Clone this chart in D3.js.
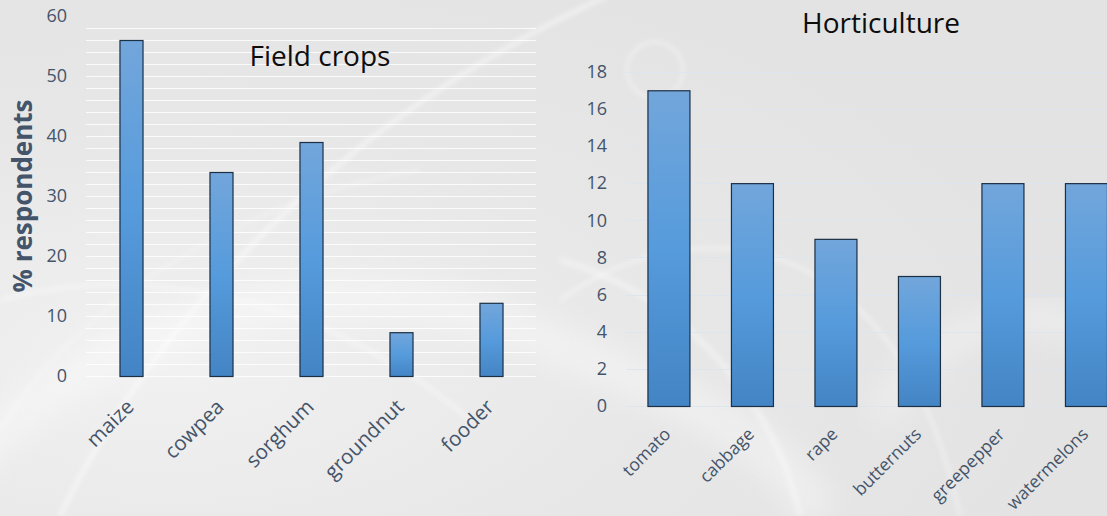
<!DOCTYPE html>
<html>
<head>
<meta charset="utf-8">
<script src="https://cdn.jsdelivr.net/npm/d3@7"></script>
<style>
  html, body { margin: 0; padding: 0; background: #e6e6e6; }
  svg { display: block; }
  text { font-family: "Open Sans", "Noto Sans", sans-serif; }
</style>
</head>
<body>
<svg id="chart" width="1107" height="516"></svg>
<script>
// Field crops grown (% respondents)
const fieldCrops = ["maize", "cowpea", "sorghum", "groundnut", "fooder"];
const fieldValues = [56, 34, 39, 7.3, 12.2];
const fieldTicks = [0, 10, 20, 30, 40, 50, 60];

// Horticultural crops grown (% respondents)
const hortiCrops = ["tomato", "cabbage", "rape", "butternuts", "greepepper", "watermelons"];
const hortiValues = [17, 12, 9, 7, 12, 12];
const hortiTicks = [0, 2, 4, 6, 8, 10, 12, 14, 16, 18];

const svg = d3.select("#chart");
const W = 1107, H = 516;
const defs = svg.append("defs");

// backdrop gradient
const bg = defs.append("radialGradient").attr("id", "bg")
  .attr("cx", "15%").attr("cy", "70%").attr("r", "85%");
bg.append("stop").attr("offset", "0%").attr("stop-color", "#f1f1f1");
bg.append("stop").attr("offset", "55%").attr("stop-color", "#e7e7e7");
bg.append("stop").attr("offset", "100%").attr("stop-color", "#e3e3e3");

const blur = defs.append("filter").attr("id", "soft")
  .attr("x", "-20%").attr("y", "-20%").attr("width", "140%").attr("height", "140%");
blur.append("feGaussianBlur").attr("stdDeviation", 2.5);
const blurWide = defs.append("filter").attr("id", "wide")
  .attr("x", "-20%").attr("y", "-20%").attr("width", "140%").attr("height", "140%");
blurWide.append("feGaussianBlur").attr("stdDeviation", 14);

// bar fill: lighter at the top, deeper at the base
const barGrad = defs.append("linearGradient").attr("id", "bar")
  .attr("x1", 0).attr("y1", 0).attr("x2", 0).attr("y2", 1);
barGrad.append("stop").attr("offset", "0%").attr("stop-color", "#72a6db");
barGrad.append("stop").attr("offset", "50%").attr("stop-color", "#569bdc");
barGrad.append("stop").attr("offset", "100%").attr("stop-color", "#4384c4");

svg.append("rect").attr("width", W).attr("height", H).attr("fill", "url(#bg)");

// decorative swirls in the backdrop
const swirls = svg.append("g").attr("fill", "none").attr("stroke", "#ffffff");
swirls.append("path").attr("d", "M -40 470 C 120 300, 360 260, 520 330 S 760 420, 820 516")
  .attr("stroke-width", 40).attr("opacity", 0.35).attr("filter", "url(#wide)");
swirls.append("path").attr("d", "M 0 300 C 150 260, 330 300, 470 420")
  .attr("stroke-width", 3).attr("opacity", 0.5).attr("filter", "url(#soft)");
swirls.append("path").attr("d", "M 60 516 C 150 330, 330 120, 620 -10")
  .attr("stroke-width", 4).attr("opacity", 0.55).attr("filter", "url(#soft)");
swirls.append("path").attr("d", "M 0 430 C 80 300, 240 200, 420 170")
  .attr("stroke-width", 2).attr("opacity", 0.45).attr("filter", "url(#soft)");
swirls.append("path").attr("d", "M 560 300 C 700 200, 900 230, 960 516")
  .attr("stroke-width", 3).attr("opacity", 0.45).attr("filter", "url(#soft)");
swirls.append("path").attr("d", "M 800 516 C 780 420, 700 300, 560 260")
  .attr("stroke-width", 6).attr("opacity", 0.35).attr("filter", "url(#soft)");
swirls.append("circle").attr("cx", 655).attr("cy", 70).attr("r", 28)
  .attr("stroke-width", 2).attr("opacity", 0.6).attr("filter", "url(#soft)");
swirls.append("path").attr("d", "M 1107 330 C 1000 300, 930 330, 880 420")
  .attr("stroke-width", 30).attr("opacity", 0.3).attr("filter", "url(#wide)");

const tickColor = "#44546a";

function barPanel(opts) {
  const g = svg.append("g");
  const x = d3.scaleBand().domain(opts.cats).range([opts.x0, opts.x1])
    .paddingInner(opts.pad).paddingOuter(opts.pad / 2);
  const y = d3.scaleLinear().domain([0, opts.max]).range([opts.y0, opts.y1]);

  // gridlines
  g.append("g").selectAll("line").data(opts.grid).join("line")
    .attr("x1", opts.x0).attr("x2", opts.gx1)
    .attr("y1", d => Math.round(y(d)) + 0.5).attr("y2", d => Math.round(y(d)) + 0.5)
    .attr("stroke", opts.gridColor).attr("stroke-width", 1).attr("opacity", opts.gridOpacity);

  // value axis labels
  const ax = g.append("g").attr("transform", `translate(${opts.labelX},0)`)
    .call(d3.axisLeft(y).tickValues(opts.ticks).tickSize(0).tickPadding(0));
  ax.select(".domain").remove();
  ax.selectAll("text").attr("fill", tickColor).style("font-size", "18px")
    .style("font-family", "'Open Sans', sans-serif");

  // bars
  g.append("g").selectAll("rect").data(opts.values).join("rect")
    .attr("x", (d, i) => x(opts.cats[i]) + 0.5)
    .attr("y", d => y(d) + 0.5)
    .attr("width", x.bandwidth())
    .attr("height", d => opts.y0 - y(d))
    .attr("fill", "url(#bar)")
    .attr("stroke", "#1b2f45").attr("stroke-width", 1.2);

  // category labels, rotated
  g.append("g").selectAll("text").data(opts.cats).join("text")
    .attr("transform", d => `translate(${x(d) + x.bandwidth() / 2 - 1},${opts.y0 + opts.labelDrop}) rotate(-45)`)
    .attr("text-anchor", "end").attr("dy", "0.35em")
    .attr("fill", tickColor).style("font-size", opts.labelSize + "px")
    .text(d => d);

  // panel title
  g.append("text").attr("x", opts.titleX).attr("y", opts.titleY)
    .attr("text-anchor", "middle").attr("fill", "#0d0d0d")
    .style("font-size", "28px").text(opts.title);
}

barPanel({
  cats: fieldCrops, values: fieldValues, ticks: fieldTicks, max: 60,
  grid: d3.range(0, 60, 2),
  x0: 86, x1: 536, gx1: 536, y0: 376, y1: 16, pad: 0.744, labelX: 67,
  labelSize: 20.5, labelDrop: 27,
  gridColor: "#ffffff", gridOpacity: 0.85,
  title: "Field crops", titleX: 320, titleY: 66
});

barPanel({
  cats: hortiCrops, values: hortiValues, ticks: hortiTicks, max: 18,
  grid: d3.range(0, 20, 2),
  x0: 626.7, x1: 1127.7, gx1: 1107, y0: 406, y1: 71.7, pad: 0.497, labelX: 607,
  labelSize: 17.5, labelDrop: 25,
  gridColor: "#dde6ef", gridOpacity: 1,
  title: "Horticulture", titleX: 881, titleY: 33
});

// value axis title
svg.append("text")
  .attr("transform", "translate(23,196) rotate(-90)")
  .attr("text-anchor", "middle").attr("dy", "0.35em")
  .attr("fill", tickColor).style("font-size", "26px").style("font-weight", "bold")
  .text("% respondents");
</script>
</body>
</html>
